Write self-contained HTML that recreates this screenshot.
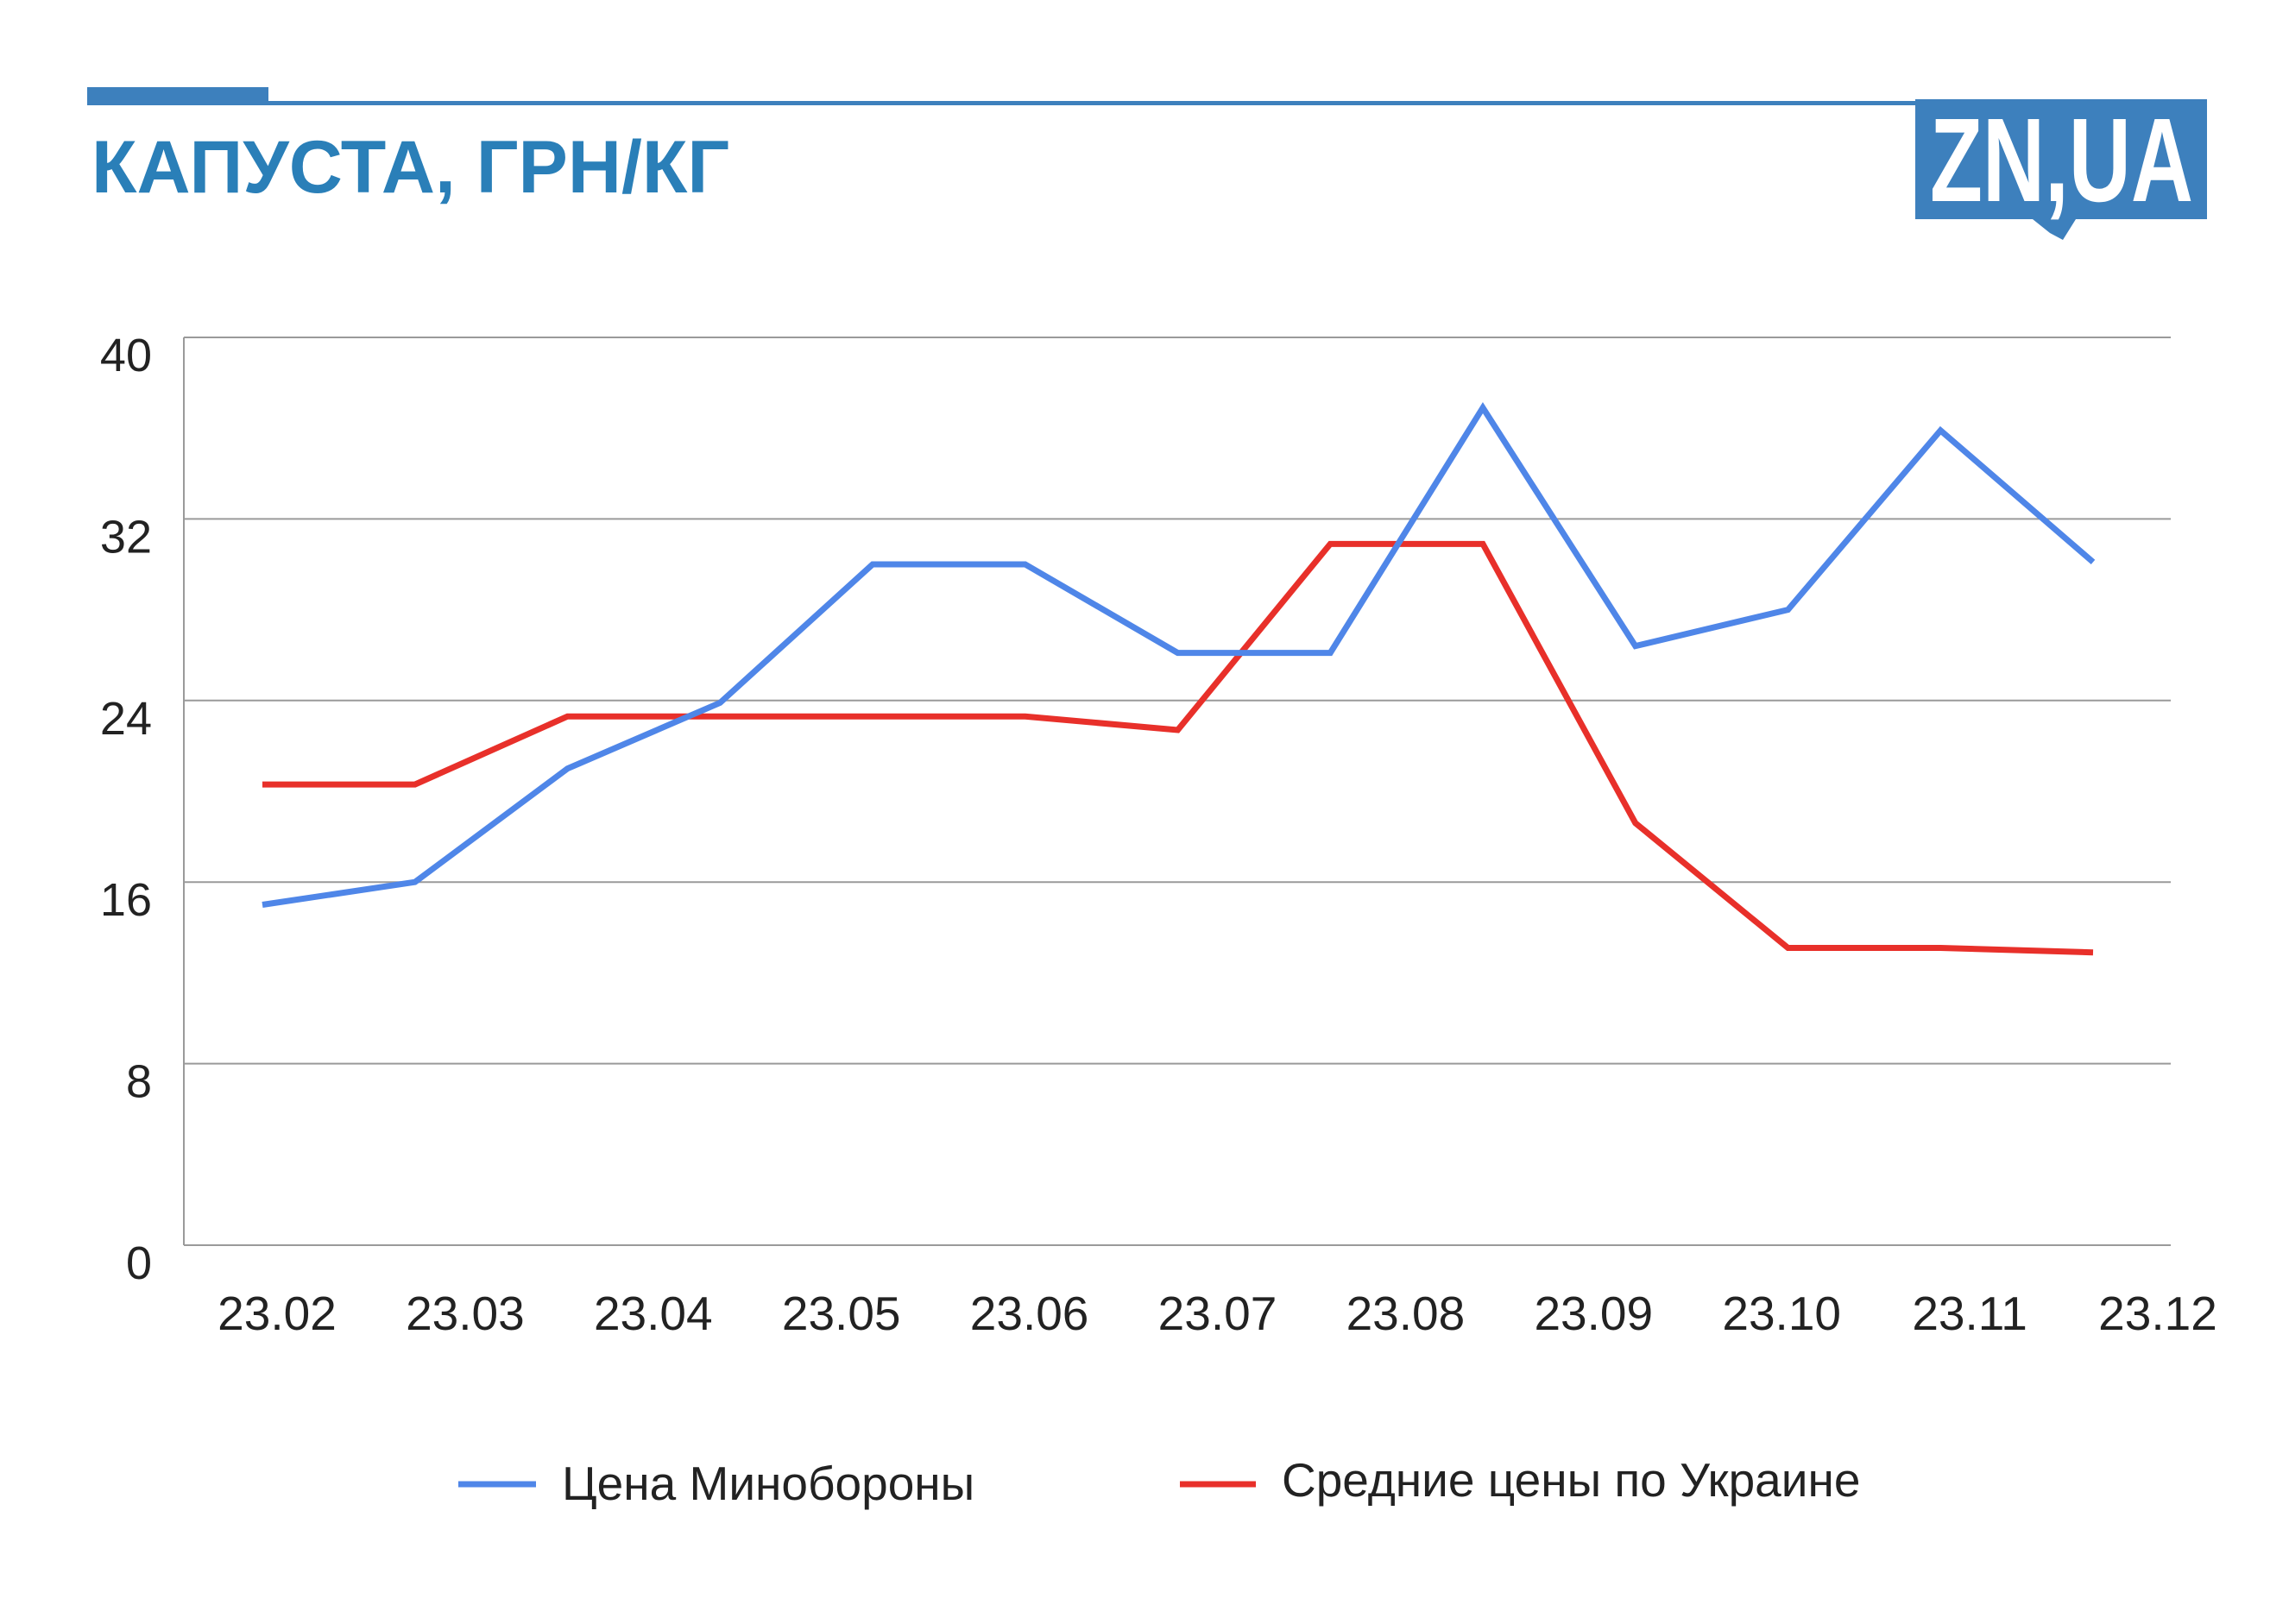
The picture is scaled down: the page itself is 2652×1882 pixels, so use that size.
<!DOCTYPE html>
<html><head><meta charset="utf-8"><style>
html,body{margin:0;padding:0;background:#fff;}
svg{display:block;}
</style></head><body>
<svg id="chart" width="2652" height="1882" viewBox="0 0 2652 1882" xmlns="http://www.w3.org/2000/svg">
  <rect x="101" y="101" width="210" height="21" fill="#3d80bd"/>
  <rect x="311" y="117" width="1910" height="5" fill="#3d80bd"/>
  <text x="106" y="223" font-family="Liberation Sans, sans-serif" font-weight="bold" font-size="86" fill="#2a7fb8">КАПУСТА, ГРН/КГ</text>
  <g>
    <rect x="2219" y="115" width="338" height="139" fill="#3d80bd"/>
    <polygon points="2355,254 2405,254 2390,278 2375,270" fill="#3d80bd"/>
    <text x="2236" y="233" textLength="305" lengthAdjust="spacingAndGlyphs" font-family="Liberation Sans, sans-serif" font-weight="bold" font-size="138" fill="#fff">ZN,UA</text>
  </g>
  <g id="grid"></g>
  <g id="series"></g>
  <g id="xlabels"></g>
  <g>
    <line x1="531" y1="1720" x2="621" y2="1720" stroke="#4f86e8" stroke-width="7"/>
    <text x="651" y="1738" font-family="Liberation Sans, sans-serif" font-size="55" fill="#222">Цена Минобороны</text>
    <line x1="1367" y1="1720" x2="1455" y2="1720" stroke="#e8302a" stroke-width="7"/>
    <text x="1485" y="1734" font-family="Liberation Sans, sans-serif" font-size="55" fill="#222">Средние цены по Украине</text>
  </g>
</svg>
<script>
const xLabels = ["23.02","23.03","23.04","23.05","23.06","23.07","23.08","23.09","23.10","23.11","23.12"];
const yTicks = [0,8,16,24,32,40];
const modPrices = [15.0,16.0,21.0,23.9,30.0,30.0,26.1,26.1,36.9,26.4,28.0,35.9,30.1];
const avgPrices = [20.3,20.3,23.3,23.3,23.3,23.3,22.7,30.9,30.9,18.6,13.1,13.1,12.9];

const NS="http://www.w3.org/2000/svg";
const L=213,R=2515,T=391,B=1443;
const y=v=>B-(v/40)*(B-T);
const px=i=>304+i*(2425-304)/(modPrices.length-1);
const lx=i=>321+i*(2500-321)/(xLabels.length-1);
function mk(tag,attrs,parent){const e=document.createElementNS(NS,tag);for(const k in attrs)e.setAttribute(k,attrs[k]);parent.appendChild(e);return e;}
const grid=document.getElementById('grid');
yTicks.forEach(v=>{
  const ln=mk('line',{x1:L,x2:R,y1:y(v),y2:y(v),stroke:'#9a9a9a','stroke-width':2},grid);
  
  
  const t=mk('text',{x:176,y:y(v)+39,'text-anchor':'end','font-family':'Liberation Sans, sans-serif','font-size':54,fill:'#222'},grid);
  t.textContent=v;
  
  
});
const ax=mk('line',{x1:L,x2:L,y1:T,y2:B,stroke:'#9a9a9a','stroke-width':2},grid);


const xl=document.getElementById('xlabels');
xLabels.forEach((s,i)=>{
  const t=mk('text',{x:lx(i),y:1541,'text-anchor':'middle','font-family':'Liberation Sans, sans-serif','font-size':55,fill:'#222'},xl);
  t.textContent=s;
  
  
});
const sg=document.getElementById('series');
function line(data,color,name){
  const p=mk('polyline',{points:data.map((v,i)=>px(i)+','+y(v)).join(' '),fill:'none',stroke:color,'stroke-width':7,'stroke-linejoin':'miter'},sg);
  
  
}
line(avgPrices,'#e8302a','series-average-ukraine');
line(modPrices,'#4f86e8','series-mod-price');
</script>
</body></html>
